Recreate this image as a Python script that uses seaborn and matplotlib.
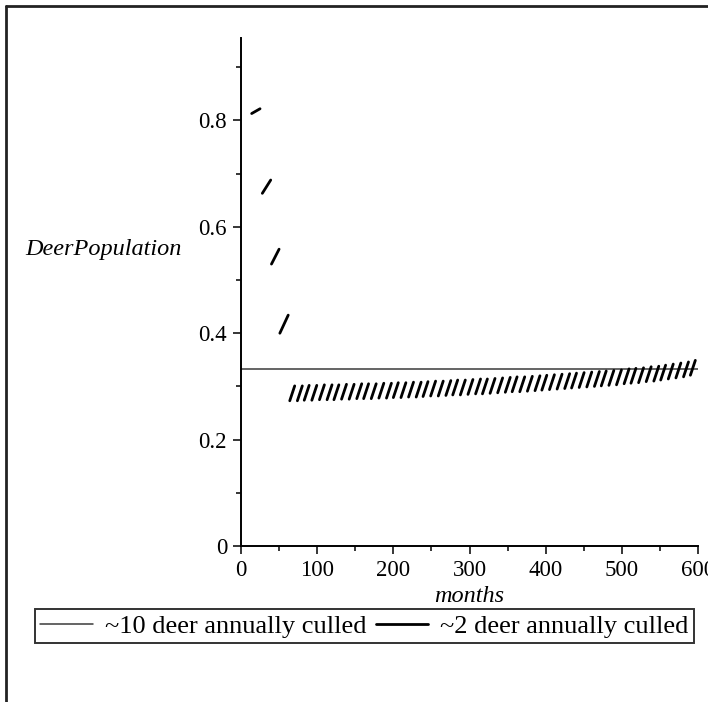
import numpy as np
import pandas as pd
import matplotlib
matplotlib.use("Agg")
import matplotlib.pyplot as plt
from matplotlib.lines import Line2D
from matplotlib.ticker import MultipleLocator
import seaborn as sns

# ~10 deer annually culled: population held at its equilibrium level
heavy_months = [0, 600]
heavy_pop = [0.333, 0.333]

# ~2 deer annually culled: each stroke is one growth stretch between culls
seg_start = [14, 28, 40, 51,
             64, 74, 83, 93, 103, 113, 122, 132, 142, 152, 161, 171, 181, 191,
             200, 210, 220, 230, 239, 249, 259, 269, 278, 288, 298, 308, 317,
             327, 337, 347, 356, 366, 376, 386, 395, 405, 415, 425, 434, 444,
             454, 464, 473, 483, 493, 503, 512, 522, 532, 542, 551, 561, 571,
             581, 590]
seg_end = [25, 39, 50, 62,
           70.5, 80.5, 89.5, 99.5, 109.5, 119.5, 128.5, 138.5, 148.5, 158.5,
           167.5, 177.5, 187.5, 197.5, 206.5, 216.5, 226.5, 236.5, 245.5,
           255.5, 265.5, 275.5, 284.5, 294.5, 304.5, 314.5, 323.5, 333.5,
           343.5, 353.5, 362.5, 372.5, 382.5, 392.5, 401.5, 411.5, 421.5,
           431.5, 440.5, 450.5, 460.5, 470.5, 479.5, 489.5, 499.5, 509.5,
           518.5, 528.5, 538.5, 548.5, 557.5, 567.5, 577.5, 587.5, 596.5]
pop_low = [0.813, 0.663, 0.530, 0.400,
           0.273, 0.273, 0.274, 0.274, 0.275, 0.275, 0.275, 0.276, 0.276,
           0.277, 0.277, 0.277, 0.278, 0.278, 0.279, 0.279, 0.280, 0.280,
           0.281, 0.282, 0.282, 0.283, 0.284, 0.284, 0.285, 0.286, 0.286,
           0.287, 0.288, 0.289, 0.290, 0.290, 0.291, 0.292, 0.293, 0.294,
           0.295, 0.296, 0.297, 0.298, 0.299, 0.300, 0.301, 0.302, 0.303,
           0.305, 0.306, 0.307, 0.309, 0.310, 0.312, 0.314, 0.316, 0.318,
           0.321]
pop_high = [0.822, 0.688, 0.558, 0.434,
            0.301, 0.301, 0.302, 0.302, 0.303, 0.303, 0.303, 0.304, 0.304,
            0.305, 0.305, 0.305, 0.306, 0.306, 0.307, 0.307, 0.308, 0.308,
            0.309, 0.310, 0.310, 0.311, 0.312, 0.312, 0.313, 0.314, 0.314,
            0.315, 0.316, 0.317, 0.318, 0.318, 0.319, 0.320, 0.321, 0.322,
            0.323, 0.324, 0.325, 0.326, 0.327, 0.328, 0.329, 0.330, 0.331,
            0.333, 0.334, 0.335, 0.337, 0.338, 0.340, 0.342, 0.344, 0.346,
            0.349]

x_ticks = [0, 100, 200, 300, 400, 500, 600]
x_tick_labels = ["0", "100", "200", "300", "400", "500", "600"]
y_ticks = [0, 0.2, 0.4, 0.6, 0.8]
y_tick_labels = ["0", "0.2", "0.4", "0.6", "0.8"]
legend_labels = ["~10 deer annually culled", "~2 deer annually culled"]

sns.set_theme(style="white")
plt.rcParams["font.family"] = ["Liberation Serif", "DejaVu Serif"]
plt.rcParams["font.size"] = 16

heavy_df = pd.DataFrame({"month": heavy_months, "pop": heavy_pop})
light_df = pd.DataFrame({
    "month": np.ravel(np.column_stack([seg_start, seg_end])),
    "pop": np.ravel(np.column_stack([pop_low, pop_high])),
    "seg": np.repeat(np.arange(len(seg_start)), 2),
})

W, H = 708, 702
fig = plt.figure(figsize=(W / 100, H / 100), dpi=100)
ax = fig.add_axes([241 / W, 1 - 546 / H, 457 / W, 508 / H])

sns.lineplot(data=heavy_df, x="month", y="pop", ax=ax, color="#3a3a3a",
             lw=1.1, estimator=None, legend=False)
sns.lineplot(data=light_df, x="month", y="pop", units="seg", ax=ax,
             color="black", lw=2.0, estimator=None, sort=False, legend=False,
             solid_capstyle="round")

ax.set_xlim(0, 600)
ax.set_ylim(0, 0.955)
ax.set_xticks(x_ticks)
ax.set_xticklabels(x_tick_labels)
ax.set_yticks(y_ticks)
ax.set_yticklabels(y_tick_labels)
ax.xaxis.set_minor_locator(MultipleLocator(50))
ax.yaxis.set_minor_locator(MultipleLocator(0.1))

for side in ("top", "right"):
    ax.spines[side].set_visible(False)
for side in ("left", "bottom"):
    ax.spines[side].set_color("black")
    ax.spines[side].set_linewidth(1.4)

ax.tick_params(which="major", direction="out", length=6, width=1.1,
               color="black", labelsize=16.5, labelcolor="black", pad=4,
               bottom=True, left=True)
ax.tick_params(which="minor", direction="out", length=3.5, width=1.1,
               color="black", bottom=True, left=True)

ax.set_xlabel("months", fontstyle="italic", fontsize=17.5, color="black")
ax.xaxis.set_label_coords(0.5, -0.100)
ax.xaxis.label.set_va("center")
ax.set_ylabel("DeerPopulation", fontstyle="italic", fontsize=17.5,
              color="black", rotation=0, ha="center", va="center")
ax.yaxis.set_label_coords(-0.302, 0.583)

handles = [Line2D([], [], color="#3a3a3a", lw=1.1),
           Line2D([], [], color="black", lw=2.0)]
leg = fig.legend(handles, legend_labels, ncol=2, loc="upper left",
                 bbox_to_anchor=(35 / W, 1 - 609 / H), borderaxespad=0,
                 fontsize=19, frameon=True, fancybox=False,
                 handlelength=2.0, handletextpad=0.45, columnspacing=0.35,
                 borderpad=0.2)
leg.get_frame().set_edgecolor("black")
leg.get_frame().set_linewidth(1.4)
for t in leg.get_texts():
    t.set_color("black")

# Outer frame along the top and left edges of the canvas
fig.add_artist(Line2D([6 / W, 6 / W], [0, 1 - 6 / H], color="#222222",
                      lw=2.0, transform=fig.transFigure))
fig.add_artist(Line2D([6 / W, 1], [1 - 6 / H, 1 - 6 / H], color="#222222",
                      lw=2.0, transform=fig.transFigure))

fig.savefig("out.png", dpi=100, facecolor="white")
